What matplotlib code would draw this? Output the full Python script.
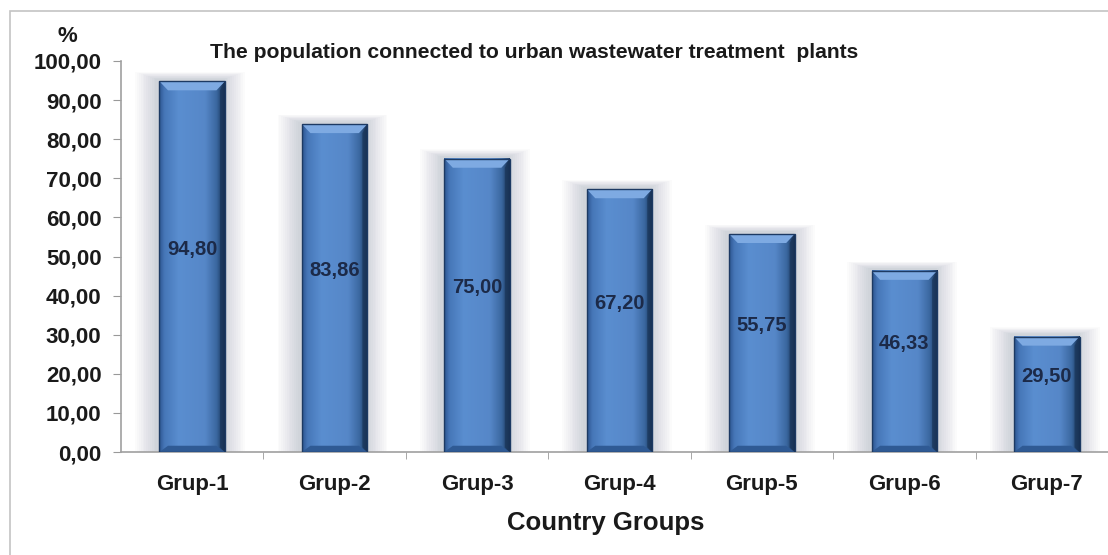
import matplotlib
matplotlib.use("Agg")
import matplotlib.pyplot as plt
import numpy as np
from matplotlib.colors import LinearSegmentedColormap
from matplotlib.patches import Polygon, Rectangle

# data
groups = ["Grup-1", "Grup-2", "Grup-3", "Grup-4", "Grup-5", "Grup-6", "Grup-7"]
values = [94.80, 83.86, 75.00, 67.20, 55.75, 46.33, 29.50]
labels = ["94,80", "83,86", "75,00", "67,20", "55,75", "46,33", "29,50"]
yticks = [0, 10, 20, 30, 40, 50, 60, 70, 80, 90, 100]

plt.rcParams['font.family'] = ['Liberation Sans', 'DejaVu Sans']

fig = plt.figure(figsize=(11.08, 5.55), dpi=100)
W, H = 1108, 555

# outer frame (chart area border, runs past the image on the right/bottom)
fig.patches.append(Rectangle((10 / W, -0.1), 1.2, 1 - 11 / H + 0.1,
                             transform=fig.transFigure, fill=False,
                             edgecolor='#c4c4c4', linewidth=1.2))

ax = fig.add_axes([121 / W, 1 - 452 / H, 997 / W, 391 / H])
x = np.arange(len(groups))
bw = 0.46

bar_cmap = LinearSegmentedColormap.from_list(
    "barblue", [(0.0, '#2c5590'), (0.08, '#4677b8'), (0.3, '#5a8ed0'),
                (0.7, '#5687c8'), (0.88, '#3a679f'), (1.0, '#13294a')])
grad = np.linspace(0, 1, 200).reshape(1, -1)

for i, v in enumerate(values):
    x0, x1 = i - bw / 2, i + bw / 2
    # soft shadow
    for k in range(12):
        pad = 0.013 * (k + 1)
        ax.add_patch(Rectangle((x0 - pad - 0.015, 0), bw + 2 * pad, v + pad * 12 + 0.5,
                               facecolor='#56667c', alpha=0.022, edgecolor='none', zorder=1))
    # body with gradient
    ax.imshow(grad, extent=[x0, x1, 0, v], aspect='auto', cmap=bar_cmap,
              zorder=3, interpolation='bicubic')
    # top bevel
    d, dy = 0.06, 2.3
    ax.add_patch(Polygon([(x0, v), (x1, v), (x1 - d, v - dy), (x0 + d, v - dy)],
                         closed=True, facecolor='#7eaae2', edgecolor='none', zorder=4))
    ax.add_patch(Polygon([(x1, v), (x1, 0), (x1 - 0.035, 1.2), (x1 - 0.035, v - dy)],
                         closed=True, facecolor='#1a3558', edgecolor='none', zorder=4, alpha=0.7))
    # bottom bevel
    ax.add_patch(Polygon([(x0, 0), (x1, 0), (x1 - d, 1.6), (x0 + d, 1.6)],
                         closed=True, facecolor='#2f5a94', edgecolor='none', zorder=4))
    ax.add_patch(Rectangle((x0, 0), bw, v, fill=False, edgecolor='#1d3a63',
                           linewidth=1.0, zorder=5))
    ax.text(i, v / 2 + 4.5, labels[i], ha='center', va='center', fontsize=14.5,
            fontweight='bold', color='#1c2a48', zorder=6)

ax.set_xlim(-0.5, 6.5)
ax.set_ylim(0, 100)
ax.set_yticks(yticks)
ax.set_yticklabels(["%d,00" % t for t in yticks], fontsize=16, fontweight='bold',
                   color='#1a1a1a')
ax.set_xticks(x)
ax.set_xticklabels(groups, fontsize=16, fontweight='bold', color='#1a1a1a')
ax.set_xticks(np.arange(0.5, 6.5, 1), minor=True)
ax.tick_params(axis='x', which='major', length=0, pad=16)
ax.tick_params(axis='x', which='minor', length=5, color='#999999', direction='out')
ax.tick_params(axis='y', length=6, color='#999999', direction='out', pad=8)
for s in ['top', 'right']:
    ax.spines[s].set_visible(False)
for s in ['left', 'bottom']:
    ax.spines[s].set_color('#a0a0a0')
    ax.spines[s].set_linewidth(1.2)

ax.set_xlabel("Country Groups", fontsize=18.5, fontweight='bold', color='#1a1a1a')
ax.xaxis.set_label_coords((606 - 121) / 997, -0.152)

fig.text(67 / W, 1 - 37 / H, "%", fontsize=16, fontweight='bold', ha='center', va='center',
         color='#1a1a1a')
fig.text(210 / W, 1 - 52 / H, "The population connected to urban wastewater treatment  plants",
         fontsize=15.2, fontweight='bold', ha='left', va='center', color='#1a1a1a')

fig.savefig("out.png", dpi=100)
